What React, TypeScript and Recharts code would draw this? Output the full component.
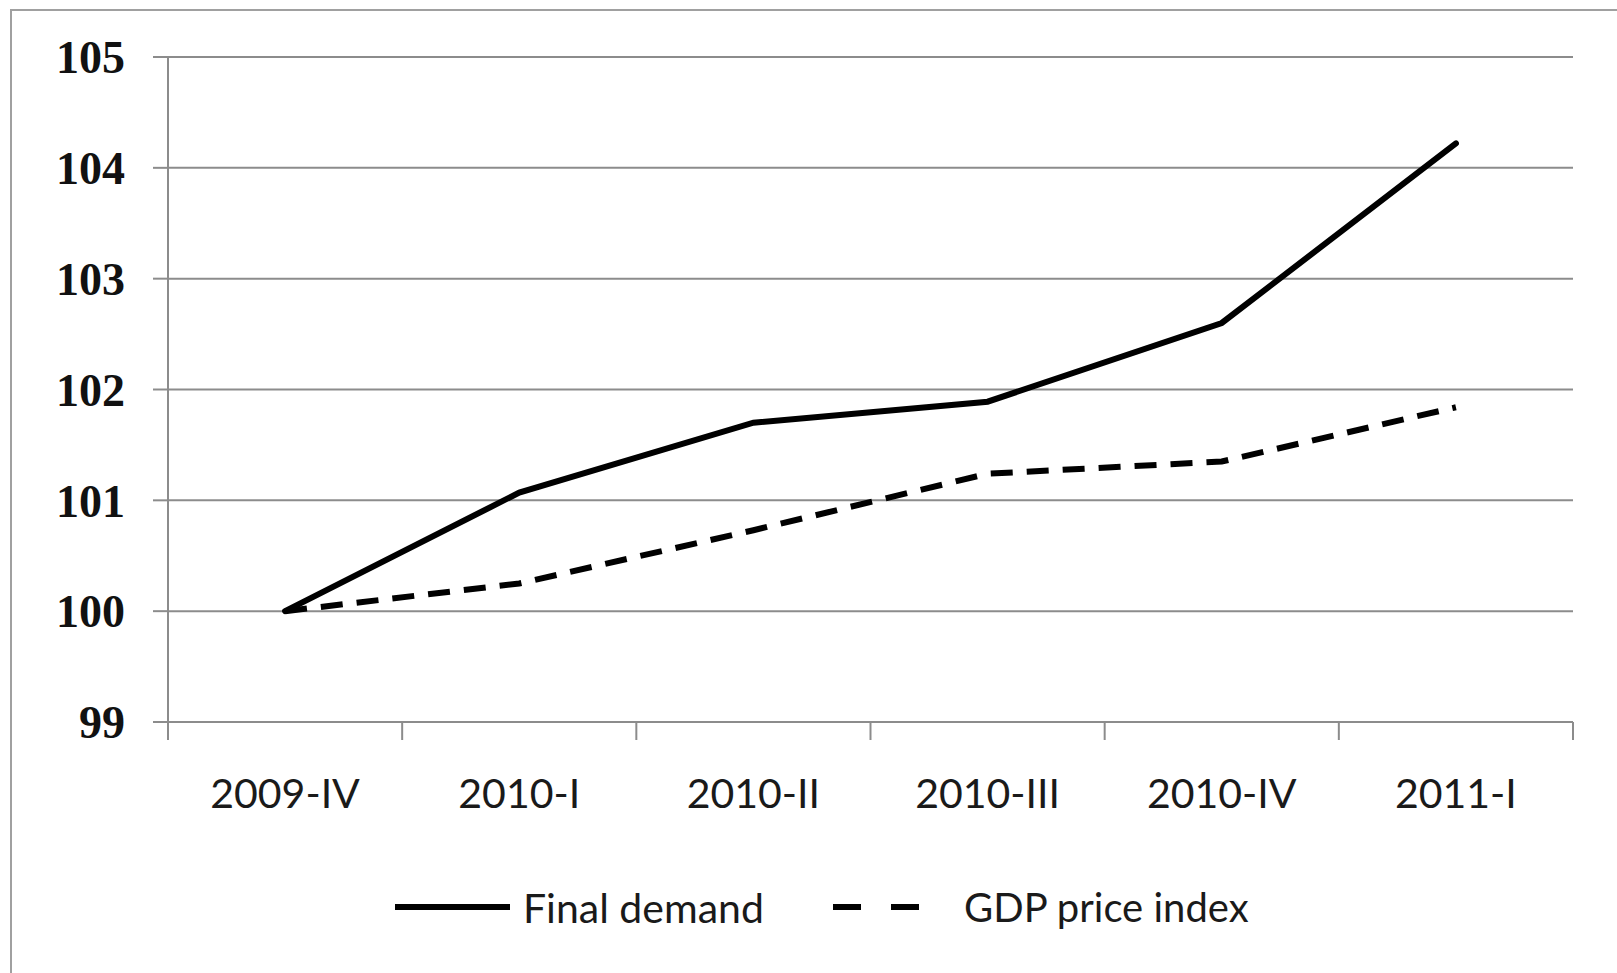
import { CartesianGrid, Legend, Line, LineChart, XAxis, YAxis } from "recharts";

// Quarterly index, 2009-IV = 100
const quarters = ["2009-IV", "2010-I", "2010-II", "2010-III", "2010-IV", "2011-I"];
const finalDemand = [100, 101.07, 101.7, 101.89, 102.6, 104.22];
const gdpPriceIndex = [100, 100.25, 100.73, 101.24, 101.35, 101.84];
const yTicks = [99, 100, 101, 102, 103, 104, 105];

const GRID = "#8c8c8c";

// category centers sit at i + 0.5 so the tick marks can fall on the boundaries
const data = quarters.map((q, i) => ({
  pos: i + 0.5,
  quarter: q,
  finalDemand: finalDemand[i],
  gdp: gdpPriceIndex[i],
}));

const xTicks: number[] = [];
for (let i = 0; i <= quarters.length * 2; i++) xTicks.push(i / 2);

interface TickProps {
  x?: number;
  y?: number;
  payload?: { value: number };
}

function XTick({ x = 0, y = 0, payload }: TickProps) {
  const v = payload?.value ?? 0;
  if (Number.isInteger(v)) {
    return <line x1={x} x2={x} y1={y} y2={y + 18} stroke={GRID} strokeWidth={2} />;
  }
  return (
    <text x={x} y={y + 86} textAnchor="middle" fontFamily="Lato" fontSize={41} fill="#1a1a1a">
      {quarters[Math.floor(v)]}
    </text>
  );
}

function LegendBox() {
  return (
    <svg width={1573} height={60} style={{ display: "block" }}>
      <line x1={395} x2={510} y1={30} y2={30} stroke="#000" strokeWidth={6} />
      <text x={523} y={30} dominantBaseline="central" fontFamily="Lato" fontSize={41} fill="#1a1a1a">
        Final demand
      </text>
      <line
        x1={833}
        x2={920}
        y1={30}
        y2={30}
        stroke="#000"
        strokeWidth={6}
        strokeDasharray="28 30"
      />
      <text x={964} y={30} dominantBaseline="central" fontFamily="Lato" fontSize={40} fill="#1a1a1a">
        GDP price index
      </text>
    </svg>
  );
}

export default function App() {
  return (
    <div
      style={{
        position: "absolute",
        left: 0,
        top: 0,
        width: 1617,
        height: 973,
        overflow: "hidden",
        background: "#fff",
      }}
    >
      <div
        style={{
          position: "absolute",
          left: 10,
          top: 9,
          width: 1700,
          height: 1000,
          border: "2px solid #a0a0a0",
        }}
      />
      <div style={{ position: "absolute", left: 0, top: 0 }}>
        <LineChart
          width={1617}
          height={973}
          data={data}
          margin={{ top: 57, right: 44, left: 0, bottom: 36 }}
        >
          <CartesianGrid vertical={false} stroke={GRID} strokeWidth={2} />
          <XAxis
            dataKey="pos"
            type="number"
            domain={[0, quarters.length]}
            ticks={xTicks}
            interval={0}
            height={155}
            tickSize={0}
            tickMargin={0}
            tickLine={false}
            tick={<XTick />}
            axisLine={{ stroke: GRID, strokeWidth: 2 }}
          />
          <YAxis
            domain={[99, 105]}
            ticks={yTicks}
            width={168}
            tickSize={15}
            tickMargin={28}
            axisLine={{ stroke: GRID, strokeWidth: 2 }}
            tickLine={{ stroke: GRID, strokeWidth: 2 }}
            tick={{
              fontFamily: "Liberation Serif",
              fontWeight: "bold",
              fontSize: 46,
              fill: "#111",
            }}
          />
          <Legend verticalAlign="bottom" height={60} content={() => <LegendBox />} />
          <Line
            dataKey="finalDemand"
            stroke="#000"
            strokeWidth={6}
            strokeLinecap="round"
            dot={false}
            isAnimationActive={false}
          />
          <Line
            dataKey="gdp"
            stroke="#000"
            strokeWidth={6}
            strokeDasharray="22 14"
            dot={false}
            isAnimationActive={false}
          />
        </LineChart>
      </div>
    </div>
  );
}
